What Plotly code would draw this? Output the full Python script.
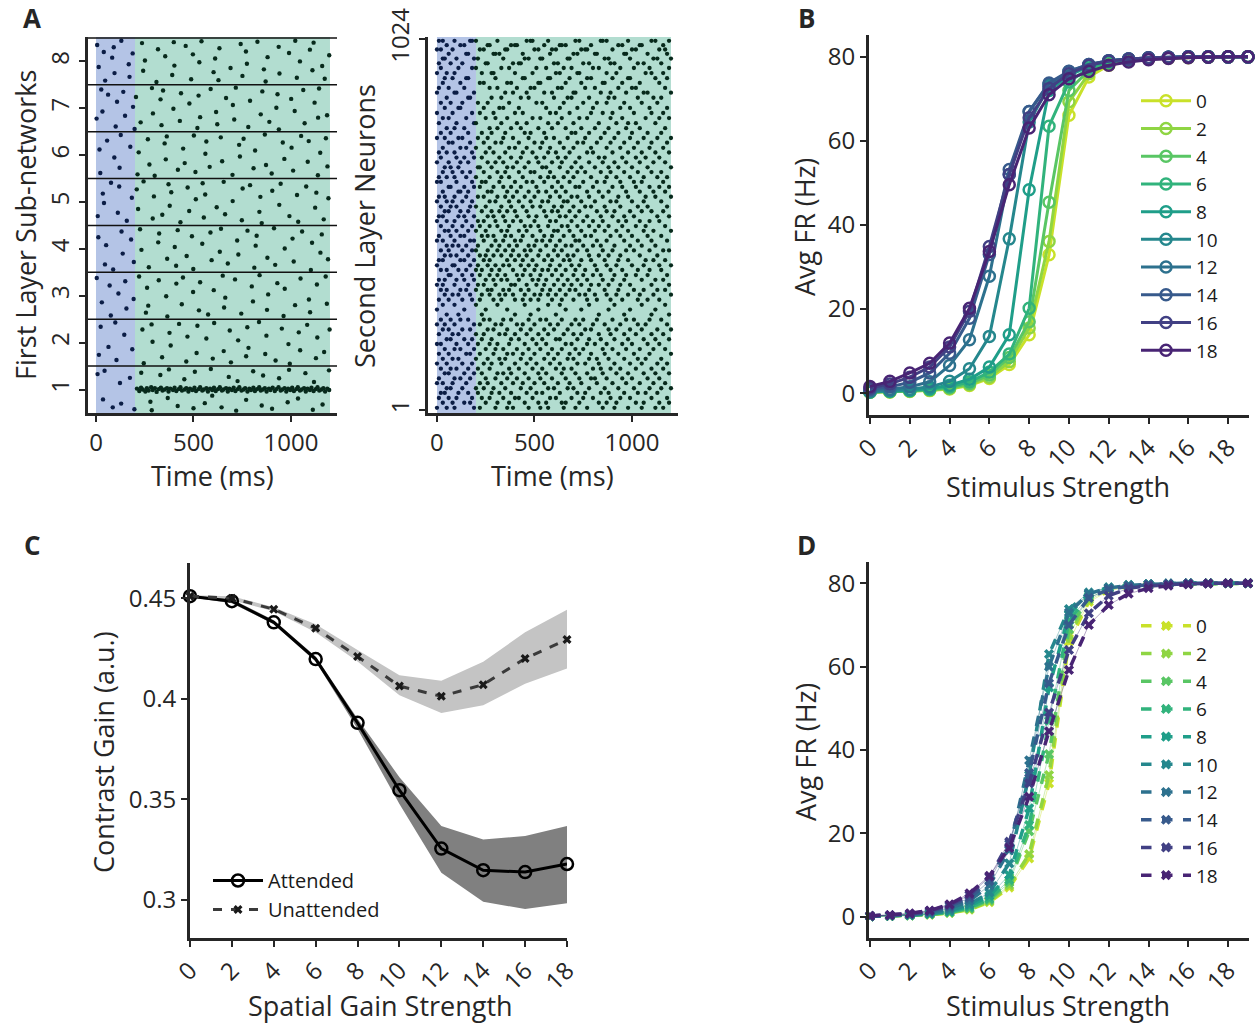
import plotly.graph_objects as go
from plotly.colors import sample_colorscale

# ---------------- DATA ----------------
# Panel A (left): first-layer raster, spikes as "time_ms:offset(hundredths of a row)"
l1_band8 = "6:35 14:-12 40:20 47:-41 83:8 91:30 95:-25 130:44 168:-6 172:-33 188:17 236:39 242:-20 251:2 310:-44 318:26 355:11 391:-29 399:41 402:-9 460:33 488:-38 497:15 530:-2 541:43 603:-23 611:6 628:-40 633:28 690:-14 742:37 751:-31 769:21 774:-5 828:42 861:-17 870:-43 880:9 937:31 941:-26 990:18 1022:44 1030:-35 1046:0 1097:25 1110:-19 1116:40 1160:-10 1173:-37 1196:13"
l1_band7 = "3:-22 27:40 33:-7 62:29 101:-39 108:14 140:35 149:-16 190:3 198:-44 205:24 229:-30 287:43 292:-11 331:19 336:-36 344:38 397:-1 430:-27 436:32 479:10 520:-42 526:27 534:-19 588:41 616:-8 622:-34 667:22 702:7 709:-24 717:44 781:-40 790:16 845:-13 853:36 889:-29 925:1 931:30 938:-45 1001:20 1019:-6 1063:39 1070:-32 1121:12 1139:-20 1144:42 1185:-15"
l1_band6 = "18:12 22:-38 57:31 94:-5 121:-27 127:43 176:18 213:-41 219:6 266:34 274:-20 301:-44 352:25 358:-9 363:40 420:-31 447:14 455:-17 502:42 510:-36 561:3 566:29 583:-25 640:38 647:-13 700:-42 734:22 738:-3 757:35 808:-28 816:10 866:44 872:-21 901:-39 958:27 966:-8 1003:16 1011:-33 1052:41 1086:-14 1091:30 1138:-43 1150:5 1179:36 1187:-24"
l1_band5 = "9:-30 35:18 41:-2 77:41 112:-23 119:33 158:-40 184:9 209:27 216:-15 244:44 291:-35 297:12 340:-27 372:38 378:-8 386:21 433:-43 470:31 478:-19 512:6 547:40 553:-33 560:16 619:-11 655:43 662:-26 701:2 748:-39 752:29 790:36 838:-21 843:11 850:-45 904:24 940:-6 947:39 992:-30 1031:15 1037:-42 1078:33 1124:-12 1130:20 1168:-37 1192:8"
l1_band4 = "12:25 46:-33 52:8 88:-44 131:37 137:-10 180:20 194:-28 226:42 233:-2 271:-39 319:14 324:33 365:-21 404:4 411:-36 419:40 465:-15 492:27 499:-43 545:11 587:35 593:-24 635:-6 641:43 676:-31 724:18 730:-12 777:39 812:-40 819:7 824:28 879:-19 913:44 919:-34 968:1 1008:22 1014:-27 1057:37 1102:-45 1108:13 1151:-8 1158:31 1190:-22"
l1_band3 = "4:38 30:-14 70:22 76:-42 115:5 150:31 156:-27 193:-7 221:41 256:-36 262:17 268:-21 322:33 360:-1 366:-44 412:26 440:-18 446:39 498:8 528:-31 534:29 575:-40 604:12 650:43 657:-25 663:-4 713:35 745:-38 799:20 805:-12 839:44 877:-30 883:3 930:27 962:-43 968:15 1021:-20 1049:37 1092:-8 1098:-35 1133:24 1178:41 1184:-17"
l1_band2 = "15:-26 24:34 64:-9 99:43 105:-37 145:17 186:-14 238:28 245:-44 285:39 290:2 339:-31 377:21 383:-6 426:40 463:-40 469:13 516:-22 520:36 566:9 599:-34 606:42 655:-18 686:26 692:-42 729:5 770:-29 776:33 782:-11 836:44 868:-24 874:15 921:-38 953:30 987:-3 994:-45 1040:22 1047:-16 1083:38 1128:-33 1135:11 1170:-20 1198:28"
l1_band1 = "8:33 36:-21 44:40 86:-38 123:14 129:-30 174:25 197:-42 232:36 279:-26 286:-44 330:31 368:-18 374:43 419:-35 453:22 500:-40 507:38 558:-29 589:44 596:-13 644:-38 681:27 719:-45 726:18 770:-22 806:39 850:-34 857:30 903:-41 939:24 983:-27 990:42 1036:-19 1074:35 1112:-43 1118:16 1162:-32 1195:41"
l1_band1_burst = "210:2 222:-3 231:4 240:0 253:-4 261:3 270:-2 283:5 291:-1 302:3 311:-5 322:1 333:4 341:-2 352:0 364:3 372:-4 381:2 395:-1 403:4 412:-3 424:1 433:5 441:-2 455:0 463:3 474:-4 482:2 494:-1 505:4 513:-3 526:1 534:5 545:-2 553:0 566:3 574:-4 585:2 596:-1 605:4 614:-3 626:1 635:5 646:-2 654:0 667:3 676:-4 684:2 697:-1 706:4 715:-3 727:1 735:5 746:-2 757:0 765:3 777:-4 786:2 795:-1 807:4 815:-3 826:1 837:5 845:-2 856:0 866:3 875:-4 887:2 895:-1 906:4 917:-3 925:1 936:5 947:-2 955:0 967:3 976:-4 985:2 996:-1 1006:4 1015:-3 1027:1 1035:5 1046:-2 1055:0 1067:3 1076:-4 1085:2 1097:-1 1105:4 1116:-3 1127:1 1136:5 1145:-2 1156:0 1166:3 1175:-4 1186:2 1196:-1"
l1_bands = [l1_band1, l1_band2, l1_band3, l1_band4, l1_band5, l1_band6, l1_band7, l1_band8]
l1_ticks = [1, 2, 3, 4, 5, 6, 7, 8]

# Panel A (right): second-layer raster, neuron index : spike times (units of 10 ms)
l2_rows = [
    (1019, "1 3 9 17 18 20 31 46 48 49 57 71 73 84 85 87 98 110 112 119"),
    (1007, "5 12 14 26 27 38 40 41 55 63 64 66 79 93 95 104 105 116"),
    (995, "0 2 8 22 24 35 36 50 52 59 61 74 76 77 90 100 102 114 117"),
    (983, "6 15 16 29 30 32 44 58 70 72 81 82 96 97 108 118"),
    (970, "3 4 10 19 21 34 45 47 53 54 67 68 86 88 99 111 113 120"),
    (957, "1 7 13 25 26 39 42 43 60 62 75 78 89 91 103 106 115"),
    (944, "2 11 18 20 33 37 51 56 65 69 80 83 94 101 109 119"),
    (930, "0 5 9 23 28 29 40 49 61 63 72 73 87 92 107 110 116"),
    (916, "4 8 15 16 30 44 45 57 58 68 77 79 90 98 99 112 118"),
    (903, "3 12 22 24 36 38 52 53 66 74 85 86 95 104 114"),
    (889, "1 6 14 27 31 41 48 50 62 64 76 81 93 100 102 117"),
    (876, "0 9 10 19 35 39 46 55 59 70 71 84 89 97 106 108 120"),
    (862, "5 16 17 28 33 43 47 60 67 69 78 88 91 103 111 115"),
    (848, "2 7 13 21 26 37 51 54 65 75 82 87 96 105 113"),
    (834, "4 11 12 24 32 34 42 56 63 72 80 94 99 109 118"),
    (820, "0 8 18 22 29 40 44 58 61 68 79 85 90 101 110 116"),
    (806, "3 6 15 25 30 36 49 53 64 73 77 89 95 107 114 119"),
    (792, "1 10 19 20 33 41 46 57 62 70 83 92 98 102 112"),
    (778, "5 9 14 27 31 38 43 52 59 66 74 81 88 97 104 117"),
    (765, "2 7 16 23 28 35 45 48 55 69 71 78 86 93 100 108 115"),
    (751, "0 4 11 13 21 26 34 39 47 56 60 67 76 84 91 99 106 113 120"),
    (738, "6 8 17 24 30 33 42 50 54 63 72 75 82 89 96 103 110 118"),
    (724, "3 12 15 20 27 37 40 46 53 58 65 70 79 87 94 101 109 116"),
    (711, "1 5 9 18 25 29 35 44 49 57 61 68 77 80 90 98 105 112 119"),
    (697, "2 10 14 19 23 32 38 43 51 55 62 66 73 83 86 95 102 107 114"),
    (684, "0 6 12 16 26 30 34 41 47 52 59 64 71 78 85 91 97 104 111 117"),
    (670, "4 7 11 21 22 28 36 39 45 54 56 63 69 74 81 88 93 100 108 120"),
    (657, "3 8 13 17 24 31 35 42 48 50 58 67 72 76 84 89 96 103 110 115"),
    (643, "1 5 9 15 20 27 33 37 44 53 57 60 65 70 79 87 92 99 106 113 118"),
    (630, "0 2 10 18 23 25 32 40 46 49 55 62 68 75 82 86 94 101 105 116"),
    (616, "6 7 14 19 22 29 34 38 43 51 59 64 71 73 80 90 95 102 109 114 119"),
    (603, "3 11 12 16 26 28 36 41 47 52 56 61 66 77 83 88 97 104 111 117"),
    (589, "1 4 9 15 21 24 31 35 39 45 50 58 63 69 72 78 85 93 98 107 112 120"),
    (576, "0 5 8 13 18 27 30 37 42 48 54 57 65 67 74 81 89 92 100 106 115"),
    (562, "2 7 10 17 20 25 33 38 44 49 53 60 64 70 76 79 86 94 103 108 118"),
    (549, "4 6 12 16 23 28 32 36 40 46 55 59 62 68 73 82 87 91 99 105 110 116"),
    (535, "1 3 11 14 19 26 29 34 41 47 51 56 63 66 71 77 84 90 96 101 113 119"),
    (522, "0 5 9 15 21 24 30 35 39 43 50 58 61 69 75 80 85 93 97 104 109 114"),
    (508, "2 8 13 18 22 27 31 37 45 48 52 57 64 67 72 78 83 88 95 102 107 117"),
    (495, "4 6 10 16 20 25 33 36 42 46 53 60 62 68 74 81 86 92 98 106 111 120"),
    (481, "1 7 12 14 23 26 29 35 38 44 49 55 59 65 70 76 79 89 94 100 108 115"),
    (468, "0 3 9 17 19 24 30 34 40 43 51 54 58 63 71 73 82 87 96 103 110 118"),
    (454, "5 8 11 15 21 28 32 37 41 47 50 56 61 66 69 75 80 84 91 99 105 112"),
    (441, "2 6 13 18 20 26 31 35 39 45 48 53 60 64 72 77 85 90 97 101 109 116 119"),
    (427, "4 7 10 16 22 25 29 33 38 42 46 52 57 62 67 70 78 83 88 94 104 113"),
    (414, "1 3 12 14 19 24 27 36 40 44 49 55 59 65 68 74 79 86 93 98 107 111 117"),
    (400, "0 8 9 17 21 26 30 34 37 43 47 51 58 63 69 73 81 87 92 100 106 114 120"),
    (387, "2 5 11 15 20 23 28 32 39 45 50 54 57 61 66 71 76 82 89 95 103 109 115"),
    (373, "6 7 13 18 22 27 31 35 41 44 48 53 59 64 70 75 80 84 91 97 102 108 118"),
    (360, "1 4 10 14 19 25 29 33 36 42 49 52 56 62 67 72 77 85 90 96 105 112 116"),
    (346, "0 3 9 16 21 24 30 38 40 46 51 55 60 65 69 74 79 83 88 94 99 110 119"),
    (332, "2 5 12 15 20 26 28 34 37 43 47 54 58 63 68 71 78 86 93 101 106 113 117"),
    (319, "4 8 11 17 23 27 32 35 39 45 50 53 57 61 66 73 76 81 87 92 98 104 111 120"),
    (305, "1 6 13 18 22 29 33 40 44 48 52 59 64 70 77 82 89 95 103 108 114"),
    (291, "3 9 20 31 45 57 63 78 91 105 117"),
    (278, "0 14 25 36 52 66 74 88 99 112"),
    (264, "5 11 23 40 48 61 83 96 110 119"),
    (250, "2 7 12 16 24 27 34 38 47 53 56 64 71 75 82 90 97 101 109 115"),
    (237, "0 4 9 19 22 30 33 41 44 50 58 62 69 73 80 86 94 103 107 118"),
    (223, "3 6 13 17 26 29 36 43 48 55 60 67 76 79 88 92 99 105 113 120"),
    (210, "1 8 11 20 24 32 35 40 46 52 57 65 70 74 83 89 96 102 110 116"),
    (196, "5 7 14 18 23 28 38 42 49 54 61 63 72 78 84 91 98 106 112 119"),
    (183, "0 2 10 16 21 27 31 37 45 51 56 66 69 77 81 87 95 100 108 114"),
    (169, "4 9 12 19 25 30 34 41 47 53 59 64 71 75 85 90 97 104 111 117"),
    (156, "1 6 15 17 22 29 36 39 44 50 57 62 68 73 79 86 93 101 109 120"),
    (142, "3 8 11 20 26 32 35 43 48 55 60 67 70 78 82 88 96 103 107 115"),
    (129, "0 5 13 18 24 28 33 40 46 51 58 63 72 76 83 91 99 105 113 118"),
    (115, "2 7 10 16 21 27 37 42 49 54 61 65 69 80 84 89 94 102 110 116"),
    (102, "4 6 14 19 23 31 34 38 45 52 56 64 71 77 85 92 98 106 112 119"),
    (88, "1 9 12 17 25 30 36 41 47 53 59 66 73 79 81 87 95 100 108 114"),
    (75, "0 3 8 15 22 26 33 39 44 50 55 62 68 74 82 90 97 104 111 117"),
    (61, "5 7 13 20 24 29 35 43 48 57 60 67 70 78 86 93 101 109 115 120"),
    (48, "2 4 11 16 21 28 32 38 46 51 54 63 72 76 84 88 96 103 107 113"),
    (34, "1 6 10 18 23 27 34 40 42 49 58 61 69 75 80 89 94 99 110 118"),
    (21, "3 8 14 17 25 31 37 45 52 56 64 66 73 83 87 92 102 106 114 119"),
    (7, "0 5 9 19 22 30 36 39 47 53 57 65 71 77 85 91 98 105 112 116"),
]
l2_ticks = [1, 1024]
time_ticks = [0, 500, 1000]
baseline_ms = [0, 200]
stim_ms = [200, 1200]

# Panel B: firing-rate curves (attended), per spatial gain strength
stim = list(range(20))
gains = [0, 2, 4, 6, 8, 10, 12, 14, 16, 18]
fr_att = [
    [0.2, 0.3, 0.4, 0.6, 1.0, 1.8, 3.5, 6.8, 13.9, 32.9, 66.1, 75.2, 78.0, 79.0, 79.5, 79.7, 79.8, 79.9, 80, 80],
    [0.2, 0.3, 0.5, 0.7, 1.1, 2.0, 3.8, 7.5, 15.5, 36.1, 69.3, 76.0, 78.3, 79.2, 79.6, 79.8, 79.9, 80, 80, 80],
    [0.3, 0.4, 0.5, 0.8, 1.3, 2.3, 4.3, 8.5, 17.0, 45.4, 72.0, 76.8, 78.6, 79.3, 79.6, 79.8, 79.9, 80, 80, 80],
    [0.3, 0.4, 0.6, 0.9, 1.5, 2.7, 5.0, 9.3, 20.2, 63.5, 74.0, 77.3, 78.8, 79.4, 79.7, 79.8, 79.9, 80, 80, 80],
    [0.3, 0.5, 0.7, 1.1, 1.9, 3.3, 6.2, 13.9, 48.4, 72.0, 75.5, 77.8, 79.0, 79.5, 79.7, 79.9, 80, 80, 80, 80],
    [0.4, 0.6, 0.9, 1.5, 2.8, 5.8, 13.5, 36.7, 64.5, 73.0, 76.0, 78.0, 79.0, 79.5, 79.7, 79.9, 80, 80, 80, 80],
    [0.6, 0.9, 1.5, 2.7, 6.6, 12.7, 27.8, 52.0, 67.0, 73.5, 76.5, 78.2, 79.1, 79.5, 79.8, 79.9, 80, 80, 80, 80],
    [0.9, 1.5, 2.6, 4.8, 9.5, 17.8, 33.0, 53.2, 67.0, 73.8, 76.6, 78.2, 79.1, 79.5, 79.8, 79.9, 80, 80, 80, 80],
    [1.2, 2.2, 3.8, 6.2, 11.0, 19.5, 34.9, 52.0, 65.5, 72.5, 76.0, 78.0, 79.0, 79.5, 79.7, 79.9, 80, 80, 80, 80],
    [1.6, 2.8, 4.8, 7.1, 11.9, 20.2, 33.7, 49.6, 63.1, 71.0, 74.8, 76.5, 78.0, 78.8, 79.3, 79.6, 79.8, 79.9, 80, 80],
]

# Panel C: contrast gain vs spatial gain strength
gain_c = [0, 2, 4, 6, 8, 10, 12, 14, 16, 18]
att_mean = [0.451, 0.4485, 0.438, 0.4197, 0.388, 0.3545, 0.3255, 0.3147, 0.3138, 0.3178]
att_upper = [0.4515, 0.4495, 0.439, 0.421, 0.390, 0.361, 0.3367, 0.330, 0.3317, 0.3367]
att_lower = [0.4505, 0.4475, 0.437, 0.4185, 0.385, 0.3477, 0.3135, 0.299, 0.2954, 0.2983]
un_mean = [0.451, 0.450, 0.4445, 0.435, 0.421, 0.4063, 0.4012, 0.407, 0.420, 0.4295]
un_upper = [0.4515, 0.451, 0.4455, 0.437, 0.4242, 0.4117, 0.409, 0.4184, 0.433, 0.4442]
un_lower = [0.4505, 0.449, 0.4435, 0.433, 0.4185, 0.4017, 0.3929, 0.3967, 0.4075, 0.415]
c_yticks = [0.3, 0.35, 0.4, 0.45]
c_yticklabels = ["0.3", "0.35", "0.4", "0.45"]

# Panel D: firing-rate curves (unattended)
fr_unatt = [
    [0.1, 0.2, 0.3, 0.5, 0.9, 1.7, 3.5, 7.0, 14.0, 32.0, 66.0, 75.5, 78.2, 79.2, 79.6, 79.8, 79.9, 80, 80, 80],
    [0.1, 0.2, 0.3, 0.5, 1.0, 1.8, 3.7, 7.5, 15.0, 34.0, 67.5, 76.0, 78.4, 79.3, 79.7, 79.8, 79.9, 80, 80, 80],
    [0.1, 0.2, 0.3, 0.6, 1.0, 2.0, 4.0, 8.2, 20.5, 39.0, 69.0, 76.5, 78.6, 79.4, 79.7, 79.8, 79.9, 80, 80, 80],
    [0.1, 0.2, 0.3, 0.6, 1.1, 2.2, 4.3, 8.8, 22.0, 47.0, 71.0, 77.0, 78.8, 79.5, 79.7, 79.9, 80, 80, 80, 80],
    [0.1, 0.2, 0.4, 0.7, 1.3, 2.6, 5.0, 10.0, 26.0, 55.0, 72.5, 77.5, 79.0, 79.5, 79.8, 79.9, 80, 80, 80, 80],
    [0.1, 0.2, 0.4, 0.8, 1.5, 3.0, 5.8, 12.8, 34.0, 63.0, 73.8, 77.8, 79.0, 79.6, 79.8, 79.9, 80, 80, 80, 80],
    [0.1, 0.3, 0.5, 1.0, 2.0, 3.8, 7.5, 16.0, 37.5, 60.0, 73.0, 77.5, 78.9, 79.5, 79.8, 79.9, 80, 80, 80, 80],
    [0.2, 0.3, 0.6, 1.2, 2.5, 4.5, 8.5, 17.5, 34.5, 56.0, 70.0, 76.5, 78.5, 79.3, 79.7, 79.9, 80, 80, 80, 80],
    [0.2, 0.4, 0.7, 1.4, 2.8, 5.2, 9.5, 18.0, 32.0, 49.0, 64.0, 72.8, 77.0, 78.8, 79.4, 79.7, 79.9, 80, 80, 80],
    [0.2, 0.4, 0.8, 1.5, 3.0, 5.6, 9.8, 16.5, 28.8, 44.5, 59.2, 70.0, 74.8, 77.5, 78.8, 79.4, 79.7, 79.9, 80, 80],
]
fr_ticks = [0, 20, 40, 60, 80]
stim_ticks = [0, 2, 4, 6, 8, 10, 12, 14, 16, 18]

# ---------------- STYLE / LAYOUT ----------------
W, H = 1258, 1027
FONT = "Open Sans"
INK = "#262626"
DOT_STIM = "#07291b"
DOT_BASE = "#0b1d45"
BLUE_BG = "#b4c4e6"
GREEN_BG = "#b2ddd0"
colors = sample_colorscale("Viridis", [0.92 - i * (0.82 / 9) for i in range(10)])
TITLE_SIZE = 27

def dx(p):
    return p / W

def dy(p):
    return 1 - p / H

fig = go.Figure()

# --- Panel A left raster ---
xs_b, ys_b, xs_s, ys_s = [], [], [], []
for band, s in zip(l1_ticks, l1_bands):
    for tok in s.split():
        t, o = tok.split(":")
        t = float(t); y = band + float(o) / 100
        if t < baseline_ms[1]:
            xs_b.append(t); ys_b.append(y)
        else:
            xs_s.append(t); ys_s.append(y)
for tok in l1_band1_burst.split():
    t, o = tok.split(":")
    xs_s.append(float(t)); ys_s.append(1 + float(o) / 100)

for xx, yy, c in [(xs_b, ys_b, DOT_BASE), (xs_s, ys_s, DOT_STIM)]:
    fig.add_trace(go.Scatter(x=xx, y=yy, mode="markers", xaxis="x", yaxis="y",
                             marker=dict(size=4.4, color=c), showlegend=False, hoverinfo="skip"))

# --- Panel A right raster ---
x2b, y2b, x2s, y2s = [], [], [], []
for neuron, s in l2_rows:
    for tok in s.split():
        t = float(tok) * 10
        if t < baseline_ms[1]:
            x2b.append(t); y2b.append(neuron)
        else:
            x2s.append(t); y2s.append(neuron)
for xx, yy, c in [(x2b, y2b, DOT_BASE), (x2s, y2s, DOT_STIM)]:
    fig.add_trace(go.Scatter(x=xx, y=yy, mode="markers", xaxis="x2", yaxis="y2",
                             marker=dict(size=4.3, color=c), showlegend=False, hoverinfo="skip"))

# --- Panel B ---
for g, vals, col in zip(gains, fr_att, colors):
    fig.add_trace(go.Scatter(x=stim, y=vals, mode="lines+markers", xaxis="x3", yaxis="y3",
                             name=str(g), legend="legend", cliponaxis=False,
                             line=dict(color=col, width=3),
                             marker=dict(symbol="circle-open", size=11, color=col, line=dict(width=2.5, color=col))))

# --- Panel C ---
fig.add_trace(go.Scatter(x=gain_c + gain_c[::-1], y=un_upper + un_lower[::-1], fill="toself",
                         fillcolor="#c4c4c4", line=dict(width=0), mode="lines", xaxis="x4", yaxis="y4",
                         showlegend=False, hoverinfo="skip"))
fig.add_trace(go.Scatter(x=gain_c + gain_c[::-1], y=att_upper + att_lower[::-1], fill="toself",
                         fillcolor="#808080", line=dict(width=0), mode="lines", xaxis="x4", yaxis="y4",
                         showlegend=False, hoverinfo="skip"))
fig.add_trace(go.Scatter(x=gain_c, y=att_mean, mode="lines+markers", name="Attended", legend="legend3",
                         xaxis="x4", yaxis="y4", cliponaxis=False,
                         line=dict(color="#000000", width=3),
                         marker=dict(symbol="circle-open", size=12, color="#000000", line=dict(width=2.5))))
fig.add_trace(go.Scatter(x=gain_c, y=un_mean, mode="lines+markers", name="Unattended", legend="legend3",
                         xaxis="x4", yaxis="y4", cliponaxis=False,
                         line=dict(color="#3a3a3a", width=3, dash="dash"),
                         marker=dict(symbol="x", size=8, color="#1a1a1a")))

# --- Panel D ---
for g, vals, col in zip(gains, fr_unatt, colors):
    fig.add_trace(go.Scatter(x=stim, y=vals, mode="lines", xaxis="x5", yaxis="y5",
                             line=dict(color=col, width=1), opacity=0.4, showlegend=False,
                             hoverinfo="skip", cliponaxis=False))
for g, vals, col in zip(gains, fr_unatt, colors):
    fig.add_trace(go.Scatter(x=stim, y=vals, mode="lines+markers", xaxis="x5", yaxis="y5",
                             name=str(g), legend="legend2", cliponaxis=False,
                             line=dict(color=col, width=3.5, dash="dash"),
                             marker=dict(symbol="x", size=9, color=col)))

def ax(**kw):
    base = dict(showline=True, linecolor=INK, linewidth=3, ticks="outside", ticklen=6, tickwidth=2,
                tickcolor=INK, showgrid=False, zeroline=False, automargin=False,
                tickfont=dict(size=24, color=INK, family=FONT))
    base.update(kw)
    return base

def leg(size):
    return dict(xanchor="left", yanchor="top", bgcolor="rgba(0,0,0,0)",
                font=dict(size=size, color="#1a1a1a", family=FONT), itemwidth=50, tracegroupgap=0)

layout = dict(
    template="none",
    width=W, height=H, margin=dict(l=0, r=0, t=0, b=0, autoexpand=False),
    paper_bgcolor="white", plot_bgcolor="rgba(0,0,0,0)",
    font=dict(family=FONT, color=INK),
    # A left
    xaxis=ax(domain=[dx(88), dx(337)], range=[-41, 1236], anchor="y", tickvals=time_ticks),
    yaxis=ax(domain=[dy(413), dy(37)], range=[0.5, 8.52], anchor="x", tickvals=l1_ticks, tickangle=-90),
    # A right
    xaxis2=ax(domain=[dx(428), dx(678)], range=[-46, 1236], anchor="y2", tickvals=time_ticks),
    yaxis2=ax(domain=[dy(413), dy(37)], range=[-7.3, 1029.5], anchor="x2", tickvals=l2_ticks, tickangle=-90),
    # B
    xaxis3=ax(domain=[dx(869), dx(1249)], range=[-0.05, 19.05], anchor="y3", tickvals=stim_ticks, tickangle=-45),
    yaxis3=ax(domain=[dy(415), dy(35)], range=[-5.2, 85.2], anchor="x3", tickvals=fr_ticks),
    # C
    xaxis4=ax(domain=[dx(190), dx(567)], range=[0, 18], anchor="y4", tickvals=gain_c, tickangle=-45),
    yaxis4=ax(domain=[dy(938), dy(563)], range=[0.281, 0.4675], anchor="x4", tickvals=c_yticks,
              ticktext=c_yticklabels),
    # D
    xaxis5=ax(domain=[dx(869), dx(1249)], range=[-0.05, 19.05], anchor="y5", tickvals=stim_ticks, tickangle=-45),
    yaxis5=ax(domain=[dy(938), dy(562)], range=[-5.1, 85.1], anchor="x5", tickvals=fr_ticks),
    legend=dict(x=dx(1136), y=dy(82), **leg(19)),
    legend2=dict(x=dx(1136), y=dy(607), **leg(19)),
    legend3=dict(x=dx(208), y=dy(861), **leg(20)),
)
fig.update_layout(**layout)

# shading rectangles
shapes = []
for xr, yr in [("x", "y"), ("x2", "y2")]:
    shapes.append(dict(type="rect", xref=xr, yref=yr + " domain", x0=baseline_ms[0], x1=baseline_ms[1],
                       y0=0, y1=1, fillcolor=BLUE_BG, line=dict(width=0), layer="below"))
    shapes.append(dict(type="rect", xref=xr, yref=yr + " domain", x0=stim_ms[0], x1=stim_ms[1],
                       y0=0, y1=1, fillcolor=GREEN_BG, line=dict(width=0), layer="below"))
for b in l1_ticks:
    shapes.append(dict(type="line", xref="x domain", yref="y", x0=0, x1=1, y0=b + 0.5, y1=b + 0.5,
                       line=dict(color="#111111", width=1.5), layer="above"))
fig.update_layout(shapes=shapes)

ann = []
def text(x, y, s, size=TITLE_SIZE, angle=0, bold=False):
    ann.append(dict(x=dx(x), y=dy(y), xref="paper", yref="paper", text=("<b>%s</b>" % s) if bold else s,
                    showarrow=False, textangle=angle, xanchor="center", yanchor="middle",
                    font=dict(size=size, color=INK, family=FONT)))

text(32, 18, "A", 26, bold=True)
text(806, 18, "B", 26, bold=True)
text(32, 545, "C", 26, bold=True)
text(806, 545, "D", 26, bold=True)
text(25, 225, "First Layer Sub-networks", angle=-90)
text(212, 475, "Time (ms)")
text(365, 226, "Second Layer Neurons", angle=-90)
text(552, 475, "Time (ms)")
text(805, 227, "Avg FR (Hz)", angle=-90)
text(1058, 486, "Stimulus Strength")
text(103, 752, "Contrast Gain (a.u.)", angle=-90)
text(380, 1005, "Spatial Gain Strength")
text(805, 752, "Avg FR (Hz)", angle=-90)
text(1058, 1005, "Stimulus Strength")
fig.update_layout(annotations=ann)

fig.write_html("out.html")
